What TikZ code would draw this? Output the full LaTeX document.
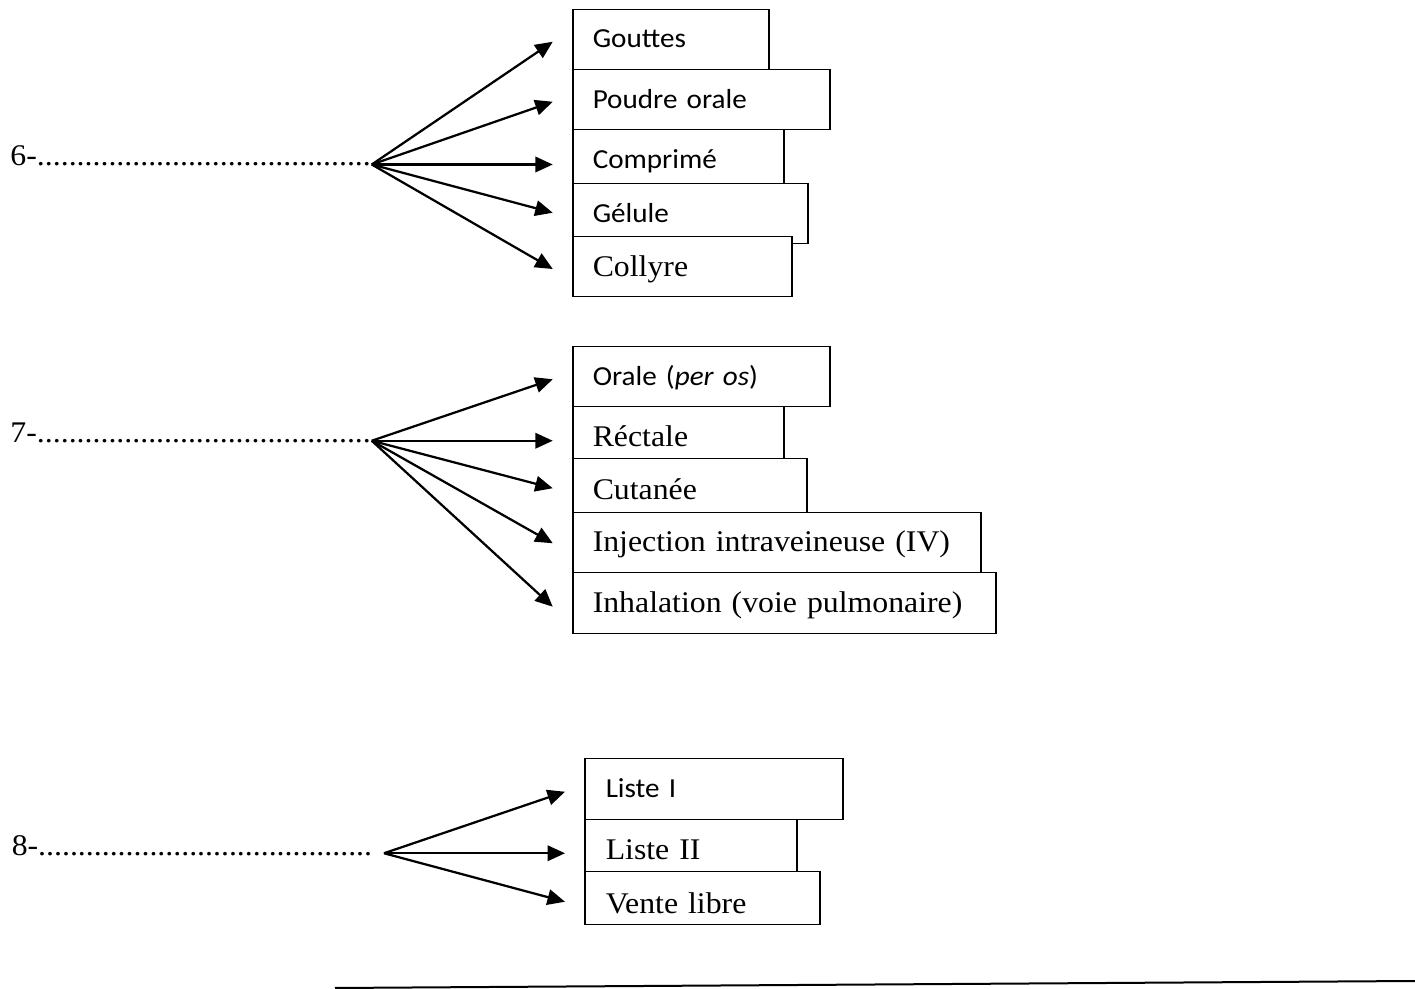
\documentclass[tikz,border=0pt]{standalone}
\usepackage{fontspec}
\setmainfont{Liberation Serif}[FakeStretch=1.06]
\newfontfamily\calib{Carlito}[FakeStretch=1.06]
\usetikzlibrary{arrows.meta}
\tikzset{
  box/.style n args={3}{draw, fill=white, line width=0.6pt, anchor=north west,
    inner xsep=8pt, inner ysep=0pt, align=left, text width=#1,
    text height=#2, text depth=#3},
  ser/.style={font=\fontsize{12}{14}\selectfont},
  sans/.style={font=\calib\fontsize{11}{13}\selectfont},
  arr/.style={line width=0.9pt, -{Triangle[length=7pt,width=6.2pt]}},
  lbl/.style={anchor=base west, inner sep=0pt, font=\fontsize{12}{14}\selectfont}
}
\begin{document}
\begin{tikzpicture}[x=1pt,y=-1pt]
\useasboundingbox (0,0) rectangle (566,395.6);

% group 6
\node[lbl] (l6) at (4,66.4) {6-..........................................};
\node[box={62.4pt}{15.2pt}{8.8pt}, sans] (b6a) at (228.8,3.6) {Gouttes};
\node[box={86.8pt}{15.6pt}{8.4pt}, sans] (b6b) at (228.8,27.6) {Poudre orale};
\node[box={68.4pt}{15.6pt}{6.0pt}, sans] (b6c) at (228.8,51.6) {Comprimé};
\node[box={78pt}{15.6pt}{8.4pt}, sans] (b6d) at (228.8,73.2) {Gélule};
\node[box={71.6pt}{16pt}{8pt}, ser] (b6e) at (228.8,94.4) {Collyre};
\coordinate (o6) at (148.7,65.8);
\coordinate (t6a) at (221.1,16.7);
\coordinate (t6b) at (221.1,40.7);
\coordinate (t6c) at (221.1,65.8);
\coordinate (t6d) at (221.1,85.1);
\coordinate (t6e) at (221.1,107.6);
\foreach \t in {t6a,t6b,t6c,t6d,t6e} \draw[arr] (o6) -- (\t);

% group 7
\node[lbl] (l7) at (4,177.2) {7-..........................................};
\node[box={86.8pt}{15.6pt}{8.4pt}, sans] (b7a) at (228.8,138.4) {Orale (\textit{per os})};
\node[box={68.4pt}{16pt}{4.8pt}, ser] (b7b) at (228.8,162.4) {Réctale};
\node[box={77.6pt}{16.4pt}{5.2pt}, ser] (b7c) at (228.8,183.2) {Cutanée};
\node[box={147.2pt}{15.6pt}{8.4pt}, ser] (b7d) at (228.8,204.8) {Injection intraveineuse (IV)};
\node[box={153.2pt}{16pt}{8.4pt}, ser] (b7e) at (228.8,228.8) {Inhalation (voie pulmonaire)};
\coordinate (o7) at (148.7,176.3);
\coordinate (t7a) at (221.1,151.7);
\coordinate (t7b) at (221.1,176.3);
\coordinate (t7c) at (221.1,195.3);
\coordinate (t7d) at (221.1,217.3);
\coordinate (t7e) at (221.1,242.7);
\foreach \t in {t7a,t7b,t7c,t7d,t7e} \draw[arr] (o7) -- (\t);

% group 8
\node[lbl] (l8) at (4.5,342.3) {8-..........................................};
\node[box={86.4pt}{15.6pt}{8.8pt}, sans, inner xsep=8.4pt] (b8a) at (233.6,303.2) {Liste I};
\node[box={68pt}{16pt}{4.8pt}, ser, inner xsep=8.4pt] (b8b) at (233.6,327.6) {Liste II};
\node[box={77.2pt}{16.8pt}{4.4pt}, ser, inner xsep=8.4pt] (b8c) at (233.6,348.4) {Vente libre};
\coordinate (o8) at (153.6,341.3);
\coordinate (t8a) at (226,316.7);
\coordinate (t8b) at (226,341.3);
\coordinate (t8c) at (226,360.7);
\foreach \t in {t8a,t8b,t8c} \draw[arr] (o8) -- (\t);

% bottom rule
\coordinate (la) at (134,395.2);
\coordinate (lb) at (566,392.4);
\draw[line width=0.8pt] (la) -- (lb);
\end{tikzpicture}
\end{document}
